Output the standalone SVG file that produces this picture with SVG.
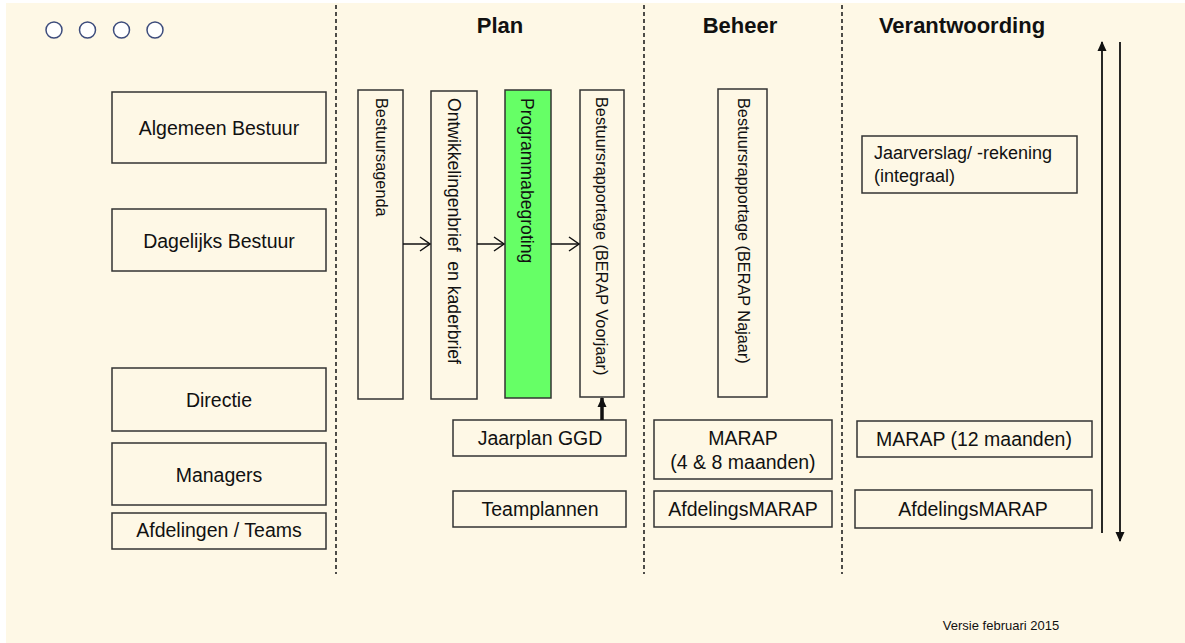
<svg xmlns="http://www.w3.org/2000/svg" width="1185" height="643" viewBox="0 0 1185 643">
<style>
  .box { fill: #FEF8E6; stroke: #333333; stroke-width: 1.5; }
  .green { fill: #66FF66; stroke: #333333; stroke-width: 1.5; }
  .t { font-family: "Liberation Sans", Arial, sans-serif; font-size: 19.5px; fill: #111111; text-anchor: middle; }
  .tl { font-family: "Liberation Sans", Arial, sans-serif; font-size: 18px; fill: #111111; }
  .v { font-family: "Liberation Sans", Arial, sans-serif; font-size: 16.3px; fill: #111111; white-space: pre; }
  .v2 { font-family: "Liberation Sans", Arial, sans-serif; font-size: 17.6px; fill: #111111; white-space: pre; }
  .h { font-family: "Liberation Sans", Arial, sans-serif; font-size: 22px; font-weight: bold; fill: #111111; text-anchor: middle; }
  .sep { stroke: #222222; stroke-width: 1.6; stroke-dasharray: 4 3; fill: none; }
  .ln { stroke: #111111; stroke-width: 1.5; fill: none; }
  .dot { fill: #ffffff; stroke: #3D4C7C; stroke-width: 1.5; }
</style>
<defs>
  <marker id="open" viewBox="0 0 12 16" refX="11" refY="8" markerWidth="12" markerHeight="16" markerUnits="userSpaceOnUse" orient="auto">
    <polyline points="1,1 11,8 1,15" fill="none" stroke="#111111" stroke-width="1.5"/>
  </marker>
  <marker id="fill" viewBox="0 0 10 10" refX="9" refY="5" markerWidth="10" markerHeight="10" markerUnits="userSpaceOnUse" orient="auto">
    <polygon points="0,0.5 10,5 0,9.5" fill="#111111"/>
  </marker>
</defs>

<rect x="6" y="3" width="1179" height="640" fill="#FEF8E6"/>

<g id="dots">
  <circle class="dot" cx="54" cy="30" r="8"/>
  <circle class="dot" cx="87.5" cy="30" r="8"/>
  <circle class="dot" cx="121.5" cy="30" r="8"/>
  <circle class="dot" cx="155" cy="30" r="8"/>
</g>

<g id="separators">
  <line class="sep" x1="336" y1="5" x2="336" y2="574"/>
  <line class="sep" x1="644" y1="5" x2="644" y2="574"/>
  <line class="sep" x1="842" y1="5" x2="842" y2="574"/>
</g>

<g id="headings">
  <text class="h" x="500" y="33">Plan</text>
  <text class="h" x="740" y="33">Beheer</text>
  <text class="h" x="962" y="33">Verantwoording</text>
</g>

<g id="algemeen-bestuur">
  <rect class="box" x="112" y="92" width="214" height="71"/>
  <text class="t" x="219" y="135">Algemeen Bestuur</text>
</g>
<g id="dagelijks-bestuur">
  <rect class="box" x="112" y="209" width="214" height="62"/>
  <text class="t" x="219" y="248">Dagelijks Bestuur</text>
</g>
<g id="directie">
  <rect class="box" x="112" y="368" width="214" height="63"/>
  <text class="t" x="219" y="407">Directie</text>
</g>
<g id="managers">
  <rect class="box" x="112" y="443" width="214" height="62"/>
  <text class="t" x="219" y="482">Managers</text>
</g>
<g id="afdelingen-teams">
  <rect class="box" x="112" y="513" width="214" height="36"/>
  <text class="t" x="219" y="537">Afdelingen / Teams</text>
</g>

<g id="bestuursagenda">
  <rect class="box" x="358" y="90" width="45" height="309"/>
  <text class="v" transform="translate(375.5,98) rotate(90)">Bestuursagenda</text>
</g>
<g id="ontwikkelingenbrief">
  <rect class="box" x="431" y="91" width="46" height="308"/>
  <text class="v2" transform="translate(447.5,98) rotate(90)" xml:space="preserve">Ontwikkelingenbrief  en kaderbrief</text>
</g>
<g id="programmabegroting">
  <rect class="green" x="505" y="90" width="46" height="308"/>
  <text class="v2" transform="translate(520.5,98) rotate(90)">Programmabegroting</text>
</g>
<g id="berap-voorjaar">
  <rect class="box" x="580" y="90" width="44" height="307"/>
  <text class="v" transform="translate(595.5,97) rotate(90)">Bestuursrapportage (BERAP Voorjaar)</text>
</g>
<g id="berap-najaar">
  <rect class="box" x="718" y="89" width="49" height="308"/>
  <text class="v" transform="translate(738,98) rotate(90)">Bestuursrapportage (BERAP Najaar)</text>
</g>

<g id="jaarplan-ggd">
  <rect class="box" x="453" y="420" width="173" height="36"/>
  <text class="t" x="540" y="445">Jaarplan GGD</text>
</g>
<g id="teamplannen">
  <rect class="box" x="453" y="491" width="173" height="36"/>
  <text class="t" x="540" y="516">Teamplannen</text>
</g>
<g id="marap-4-8">
  <rect class="box" x="654" y="420" width="178" height="59"/>
  <text class="t" x="743" y="445">MARAP</text>
  <text class="t" x="743" y="469">(4 &amp; 8 maanden)</text>
</g>
<g id="afdelingsmarap-beheer">
  <rect class="box" x="654" y="491" width="178" height="36"/>
  <text class="t" x="743" y="516">AfdelingsMARAP</text>
</g>

<g id="jaarverslag">
  <rect class="box" x="862" y="136" width="215" height="57"/>
  <text class="tl" x="874" y="159">Jaarverslag/ -rekening</text>
  <text class="tl" x="874" y="182">(integraal)</text>
</g>
<g id="marap-12">
  <rect class="box" x="857" y="421" width="235" height="36"/>
  <text class="t" x="974" y="446">MARAP (12 maanden)</text>
</g>
<g id="afdelingsmarap-verantwoording">
  <rect class="box" x="855" y="490" width="237" height="38"/>
  <text class="t" x="973" y="516">AfdelingsMARAP</text>
</g>

<g id="connectors">
  <line class="ln" x1="403" y1="244" x2="430" y2="244" marker-end="url(#open)"/>
  <line class="ln" x1="477" y1="244" x2="504" y2="244" marker-end="url(#open)"/>
  <line class="ln" x1="551" y1="244" x2="579" y2="244" marker-end="url(#open)"/>
  <line x1="602" y1="420" x2="602" y2="398" stroke="#111111" stroke-width="3.5" marker-end="url(#fill)"/>
  <line x1="1102" y1="533" x2="1102" y2="42" stroke="#111111" stroke-width="1.8" marker-end="url(#fill)"/>
  <line x1="1120" y1="42" x2="1120" y2="541" stroke="#111111" stroke-width="1.8" marker-end="url(#fill)"/>
</g>

<text id="versie" x="1001" y="630" font-family="Liberation Sans, Arial, sans-serif" font-size="13px" fill="#111111" text-anchor="middle">Versie februari 2015</text>
</svg>
